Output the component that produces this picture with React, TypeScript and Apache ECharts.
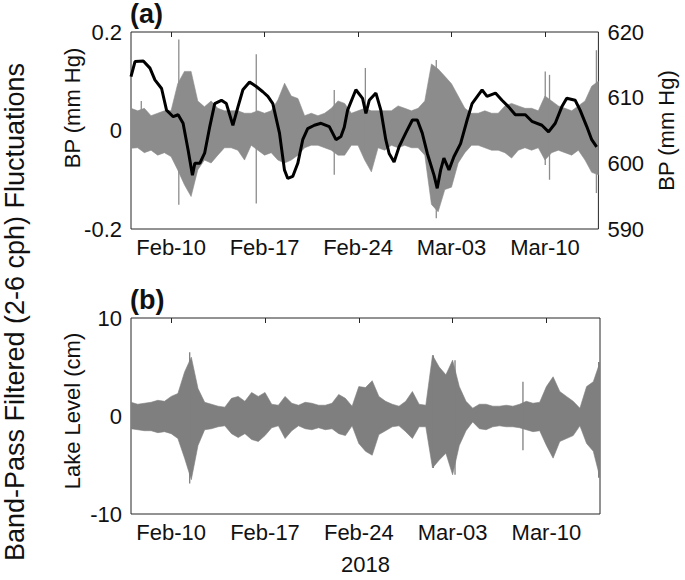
import React, { useEffect, useRef } from "react";
import * as echarts from "echarts";

// ---- axis ticks (days counted from Feb-07 2018) ----
const tickDays = [3, 10, 17, 24, 31];
const tickLabels = ["Feb-10", "Feb-17", "Feb-24", "Mar-03", "Mar-10"];
const yearLabel = "2018";

// ---- envelope sample times (days from Feb-07) ----
const envDays = [
  0, 0.5, 1, 1.5, 2, 2.5, 3, 3.5, 4, 4.5, 5, 5.5, 6, 6.5, 7, 7.5, 8, 8.5, 9, 9.5,
  10, 10.5, 11, 11.5, 12, 12.5, 13, 13.5, 14, 14.5, 15, 15.5, 16, 16.5, 17, 17.5,
  18, 18.5, 19, 19.5, 20, 20.5, 21, 21.5, 22, 22.5, 23, 23.5, 24, 24.5, 25, 25.5,
  26, 26.5, 27, 27.5, 28, 28.5, 29, 29.5, 30, 30.5, 31, 31.5, 32, 32.5, 33, 33.5,
  34, 34.5, 35,
];

// (a) band-pass filtered BP fluctuations, upper / lower extent (mm Hg)
const bpFiltTop = [
  0.045, 0.04, 0.045, 0.03, 0.035, 0.04, 0.04, 0.095, 0.12, 0.12, 0.06, 0.048, 0.06, 0.045, 0.04, 0.04,
  0.04, 0.035, 0.035, 0.04, 0.035, 0.04, 0.062, 0.096, 0.07, 0.065, 0.03, 0.035, 0.03, 0.035, 0.045,
  0.06, 0.055, 0.035, 0.04, 0.045, 0.04, 0.04, 0.04, 0.04, 0.05, 0.045, 0.04, 0.045, 0.06, 0.135,
  0.125, 0.11, 0.095, 0.07, 0.045, 0.035, 0.035, 0.04, 0.035, 0.035, 0.05, 0.055, 0.05, 0.045, 0.045,
  0.04, 0.07, 0.06, 0.05, 0.045, 0.04, 0.05, 0.06, 0.09, 0.1,
];
const bpFiltBottom = [
  -0.036, -0.035, -0.045, -0.04, -0.05, -0.045, -0.053, -0.08, -0.11, -0.134, -0.08, -0.06, -0.066,
  -0.05, -0.035, -0.035, -0.04, -0.06, -0.03, -0.04, -0.05, -0.045, -0.06, -0.066, -0.06, -0.05,
  -0.035, -0.03, -0.03, -0.035, -0.04, -0.05, -0.05, -0.03, -0.03, -0.06, -0.084, -0.035, -0.04,
  -0.03, -0.035, -0.03, -0.035, -0.035, -0.05, -0.15, -0.165, -0.12, -0.115, -0.066, -0.045, -0.03,
  -0.03, -0.035, -0.04, -0.04, -0.045, -0.056, -0.04, -0.035, -0.04, -0.035, -0.06, -0.045, -0.04,
  -0.045, -0.05, -0.04, -0.06, -0.085, -0.09,
];
// isolated spikes: [day, top, bottom]
const bpFiltSpikes = [
  [0.77, 0.06, -0.03],
  [3.58, 0.185, -0.151],
  [9.38, 0.155, -0.148],
  [15.22, 0.082, -0.09],
  [17.55, 0.127, -0.05],
  [22.86, 0.143, -0.178],
  [31.02, 0.12, -0.07],
  [31.34, 0.113, -0.1],
  [34.85, 0.163, -0.127],
];

// (a) barometric pressure, right axis (mm Hg)
const bpDays = [
  0, 0.3, 0.92, 1.42, 1.79, 2.29, 2.66, 3.16, 3.53, 3.9, 4.28, 4.6, 4.78, 5.15, 5.52, 5.9, 6.27, 6.77,
  7.14, 7.63, 8.01, 8.38, 8.88, 9.38, 9.87, 10.25, 10.62, 11.12, 11.49, 11.74, 12.11, 12.49, 12.86,
  13.23, 13.73, 14.23, 14.85, 15.35, 15.72, 15.97, 16.22, 16.84, 17.34, 17.59, 17.84, 18.34, 18.71,
  19.08, 19.33, 19.7, 20.07, 20.57, 21.07, 21.44, 21.81, 22.19, 22.69, 22.93, 23.19, 23.43, 23.81,
  24.18, 24.68, 25.17, 25.54, 26.29, 26.66, 27.29, 27.78, 28.28, 28.78, 29.53, 30.02, 30.77, 31.27,
  31.77, 32.26, 32.63, 33.26, 33.63, 34.13, 34.5, 34.87,
];
const bpValues = [
  613.2, 615.5, 615.6, 614.5, 612.7, 611.4, 608.1, 607.1, 607.4, 606.1, 602.0, 598.2, 600.0, 600.0,
  601.6, 605.6, 609.1, 609.6, 609.1, 605.8, 608.6, 611.2, 612.4, 611.7, 610.9, 610.2, 609.1, 604.6,
  599.0, 597.7, 598.0, 600.0, 603.6, 605.3, 605.8, 606.1, 605.6, 603.6, 604.1, 605.5, 608.1, 611.2,
  609.9, 607.6, 609.6, 610.7, 608.1, 603.6, 601.5, 600.2, 602.5, 604.6, 606.6, 606.6, 604.6, 601.5,
  598.2, 596.2, 599.0, 600.8, 599.0, 601.0, 603.0, 606.6, 609.1, 611.2, 610.2, 610.7, 609.6, 608.6,
  607.4, 607.4, 606.4, 605.8, 604.8, 606.1, 608.6, 609.9, 609.6, 608.1, 605.6, 603.6, 602.5,
];

// (b) band-pass filtered lake level, upper / lower extent (cm)
const lakeTop = [
  1.4, 1.2, 1.3, 1.4, 1.6, 1.5, 2.0, 2.3, 4.5, 6.0, 2.8, 1.4, 1.2, 1.0, 0.9, 1.8, 2.0, 1.5, 2.4, 2.0,
  2.4, 1.2, 1.1, 2.0, 1.3, 1.1, 1.4, 1.3, 1.1, 1.1, 1.3, 2.2, 1.8, 1.0, 3.0, 2.9, 3.6, 2.0, 1.5, 1.2,
  1.0, 1.5, 2.5, 1.2, 1.1, 6.2, 5.0, 4.2, 5.7, 3.0, 1.5, 0.8, 1.2, 1.2, 1.0, 1.0, 1.1, 1.0, 1.2, 1.5,
  1.3, 1.4, 3.0, 4.0, 2.5, 2.0, 1.5, 0.8, 3.0, 3.5, 5.5,
];
const lakeBottom = [
  -1.3, -1.4, -1.5, -1.5, -1.7, -1.6, -1.8, -2.3, -4.3, -6.5, -3.0, -1.4, -1.3, -1.1, -1.0, -1.8,
  -2.2, -1.8, -2.4, -2.6, -2.0, -1.2, -1.0, -2.3, -1.5, -1.0, -1.3, -1.4, -1.2, -1.4, -1.3, -1.8,
  -2.0, -1.0, -2.8, -3.6, -4.0, -1.9, -1.5, -1.1, -1.0, -1.6, -2.3, -1.1, -1.1, -5.3, -4.5, -3.8,
  -6.0, -3.0, -1.5, -0.6, -1.3, -1.4, -1.1, -1.0, -1.1, -1.1, -1.2, -1.4, -1.6, -1.5, -3.0, -4.3,
  -2.6, -2.3, -2.0, -1.0, -2.8, -3.6, -6.3,
];
const lakeSpikes = [
  [4.38, 6.5, -6.9],
  [22.56, 6.2, -5.3],
  [24.18, 5.7, -6.0],
  [29.25, 3.5, -3.5],
  [34.9, 5.5, -6.3],
];

const FONT = "'Liberation Sans', Arial, Helvetica, sans-serif";
const AXIS_COLOR = "#262626";
const TEXT_COLOR = "#111";
const FS = 22;

function bandSeries(xi: number, yi: number, top: number[], bottom: number[], color: string) {
  return {
    type: "custom",
    xAxisIndex: xi,
    yAxisIndex: yi,
    silent: true,
    clip: true,
    z: 1,
    data: envDays.map((d, i) => [d, top[i], bottom[i]]),
    renderItem: (params: any, api: any) => {
      if (params.dataIndex !== 0) return null;
      const pts: number[][] = [];
      for (let i = 0; i < envDays.length; i++) pts.push(api.coord([envDays[i], top[i]]));
      for (let i = envDays.length - 1; i >= 0; i--) pts.push(api.coord([envDays[i], bottom[i]]));
      return {
        type: "polygon",
        shape: { points: pts },
        style: { fill: color, stroke: color, lineWidth: 0.6 },
      };
    },
  };
}

function spikeSeries(xi: number, yi: number, spikes: number[][], color: string) {
  return {
    type: "custom",
    xAxisIndex: xi,
    yAxisIndex: yi,
    silent: true,
    clip: true,
    z: 2,
    data: spikes,
    renderItem: (params: any, api: any) => {
      const a = api.coord([api.value(0), api.value(1)]);
      const b = api.coord([api.value(0), api.value(2)]);
      return {
        type: "line",
        shape: { x1: a[0], y1: a[1], x2: b[0], y2: b[1] },
        style: { stroke: color, lineWidth: 1.3 },
      };
    },
  };
}

function xAxisPair(gridIndex: number, withName: boolean) {
  const common = {
    type: "value",
    gridIndex,
    min: 0,
    max: 35,
    splitLine: { show: false },
    axisLine: { show: false },
  };
  return [
    {
      ...common,
      position: "bottom",
      name: withName ? yearLabel : "",
      nameLocation: "middle",
      nameGap: 39,
      nameTextStyle: { fontFamily: FONT, fontSize: FS, color: TEXT_COLOR },
      axisTick: { show: true, inside: true, length: 5, customValues: tickDays, lineStyle: { color: AXIS_COLOR } },
      axisLabel: {
        show: true,
        customValues: tickDays,
        formatter: (v: number) => tickLabels[tickDays.indexOf(v)] ?? "",
        fontFamily: FONT,
        fontSize: FS,
        color: TEXT_COLOR,
        margin: 7,
      },
    },
    {
      ...common,
      position: "top",
      axisTick: { show: true, inside: true, length: 5, customValues: tickDays, lineStyle: { color: AXIS_COLOR } },
      axisLabel: { show: false },
    },
  ];
}

function yAxisDef(gridIndex: number, position: string, min: number, max: number, interval: number, name: string, nameGap: number) {
  return {
    type: "value",
    gridIndex,
    position,
    min,
    max,
    interval,
    name,
    nameLocation: "middle",
    nameGap,
    nameRotate: 90,
    nameTextStyle: { fontFamily: FONT, fontSize: FS, color: TEXT_COLOR },
    splitLine: { show: false },
    axisLine: { show: false },
    axisTick: { show: false },
    axisLabel: { fontFamily: FONT, fontSize: FS, color: TEXT_COLOR, margin: 9 },
  };
}

function vText(text: string, x: number, y: number, size: number) {
  return {
    type: "text",
    x,
    y,
    rotation: Math.PI / 2,
    style: {
      text,
      font: `${size}px ${FONT}`,
      fill: TEXT_COLOR,
      align: "center",
      verticalAlign: "middle",
    },
  };
}

export default function App() {
  const ref = useRef<HTMLDivElement>(null);
  useEffect(() => {
    if (!ref.current) return;
    const chart = echarts.init(ref.current, null, { renderer: "svg" });
    const option: any = {
      animation: false,
      backgroundColor: "#ffffff",
      grid: [
        { left: 131, top: 32, width: 469, height: 197, show: true, borderColor: AXIS_COLOR, borderWidth: 1, backgroundColor: "transparent" },
        { left: 131, top: 318, width: 469, height: 196, show: true, borderColor: AXIS_COLOR, borderWidth: 1, backgroundColor: "transparent" },
      ],
      xAxis: [...xAxisPair(0, false), ...xAxisPair(1, true)],
      yAxis: [
        yAxisDef(0, "left", -0.2, 0.2, 0.2, "", 44),
        yAxisDef(0, "right", 590, 620, 10, "BP (mm Hg)", 47),
        yAxisDef(1, "left", -10, 10, 10, "", 44),
      ],
      graphic: [
        { type: "text", x: 130, y: 0, style: { text: "(a)", font: `bold 27px ${FONT}`, fill: TEXT_COLOR } },
        { type: "text", x: 130, y: 286, style: { text: "(b)", font: `bold 27px ${FONT}`, fill: TEXT_COLOR } },
        vText("BP (mm Hg)", 72, 108, FS),
        vText("Lake Level (cm)", 72, 411, FS),
        vText("Band-Pass Filtered (2-6 cph) Fluctuations", 15, 312, 27),
      ],
      series: [
        bandSeries(0, 0, bpFiltTop, bpFiltBottom, "#8c8c8c"),
        spikeSeries(0, 0, bpFiltSpikes, "#8c8c8c"),
        {
          type: "line",
          xAxisIndex: 0,
          yAxisIndex: 1,
          z: 5,
          data: bpDays.map((d, i) => [d, bpValues[i]]),
          showSymbol: false,
          symbol: "none",
          lineStyle: { color: "#000", width: 3 },
          silent: true,
        },
        bandSeries(2, 2, lakeTop, lakeBottom, "#7f7f7f"),
        spikeSeries(2, 2, lakeSpikes, "#7f7f7f"),
      ],
    };
    chart.setOption(option);
    return () => chart.dispose();
  }, []);
  return (
    <div
      ref={ref}
      style={{ width: 685, height: 580, position: "absolute", left: 0, top: 0 }}
    />
  );
}
